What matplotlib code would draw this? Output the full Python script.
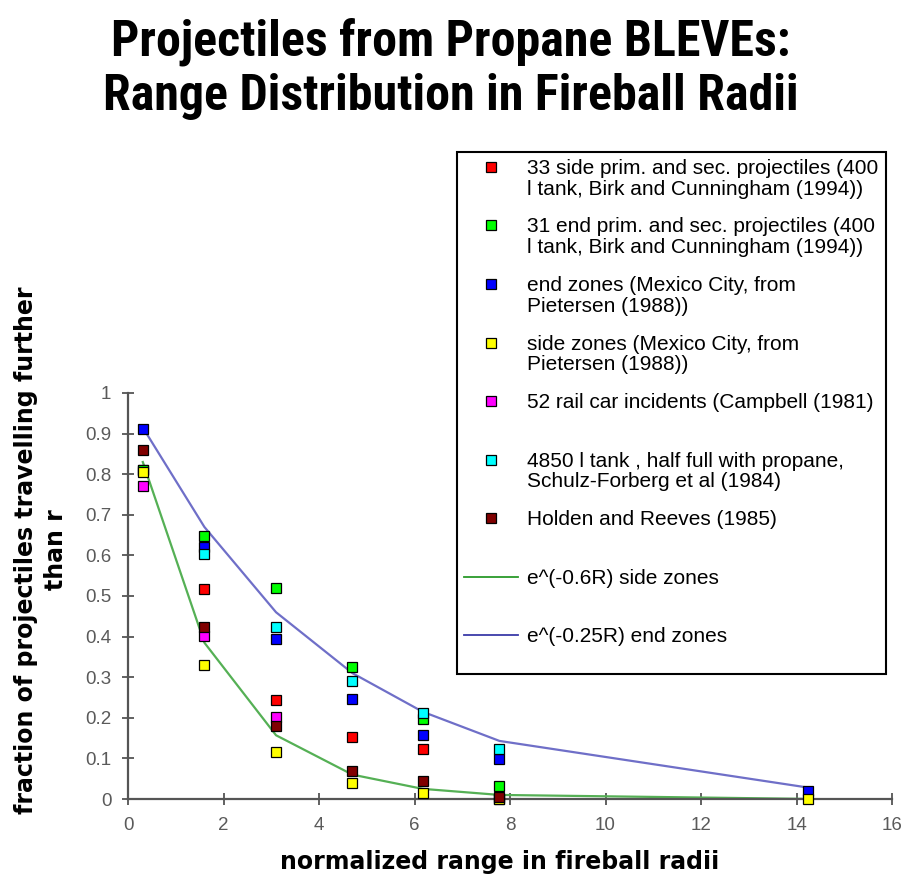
import matplotlib
matplotlib.use("Agg")
from matplotlib import pyplot as plt
from matplotlib.lines import Line2D
from matplotlib.legend_handler import HandlerLine2D
from matplotlib import font_manager

# distances (fireball radii) of the measured columns
r_cols = [0.31, 1.6, 3.1, 4.7, 6.17, 7.78, 14.25]

# fraction of projectiles travelling further than r, per data set
side_bc_x = [0.31, 1.6, 3.1, 4.7, 6.17, 7.78]
side_bc_y = [0.81, 0.517, 0.244, 0.153, 0.123, 0.0]
end_bc_x = [0.31, 1.6, 3.1, 4.7, 6.17, 7.78]
end_bc_y = [0.81, 0.648, 0.519, 0.326, 0.197, 0.033]
end_mx_x = [0.31, 1.6, 3.1, 4.7, 6.17, 7.78, 14.25]
end_mx_y = [0.911, 0.62, 0.394, 0.247, 0.157, 0.099, 0.019]
side_mx_x = [0.31, 1.6, 3.1, 4.7, 6.17, 7.78, 14.25]
side_mx_y = [0.805, 0.33, 0.116, 0.040, 0.016, 0.0, 0.0]
rail_x = [0.31, 1.6, 3.1]
rail_y = [0.77, 0.402, 0.202]
tank_x = [1.6, 3.1, 4.7, 6.17, 7.78]
tank_y = [0.603, 0.423, 0.291, 0.213, 0.123]
holden_x = [0.31, 1.6, 3.1, 4.7, 6.17, 7.78]
holden_y = [0.86, 0.423, 0.181, 0.07, 0.044, 0.005]

# fitted curves
side_fit = [0.83, 0.385, 0.157, 0.060, 0.025, 0.010, 0.0002]
end_fit = [0.915, 0.67, 0.46, 0.31, 0.215, 0.143, 0.028]

x_ticks = [0, 2, 4, 6, 8, 10, 12, 14, 16]
y_ticks = [0, 0.1, 0.2, 0.3, 0.4, 0.5, 0.6, 0.7, 0.8, 0.9, 1]
y_tick_labels = ["0", "0.1", "0.2", "0.3", "0.4", "0.5", "0.6", "0.7", "0.8", "0.9", "1"]

series = [
    (side_bc_x, side_bc_y, "#ff0000",
     "33 side prim. and sec. projectiles (400\nl tank, Birk and Cunningham (1994))"),
    (end_bc_x, end_bc_y, "#00ff00",
     "31 end prim. and sec. projectiles (400\nl tank, Birk and Cunningham (1994))"),
    (end_mx_x, end_mx_y, "#0000ff",
     "end zones (Mexico City, from\nPietersen (1988))"),
    (side_mx_x, side_mx_y, "#ffff00",
     "side zones (Mexico City, from\nPietersen (1988))"),
    (rail_x, rail_y, "#ff00ff",
     "52 rail car incidents (Campbell (1981)\n "),
    (tank_x, tank_y, "#00ffff",
     "4850 l tank , half full with propane,\nSchulz-Forberg et al (1984)"),
    (holden_x, holden_y, "#800000",
     "Holden and Reeves (1985)\n "),
]

# pick a narrow face for the title if one is around
names = {f.name for f in font_manager.fontManager.ttflist}
title_fam = "Liberation Sans"
for cand in ["Roboto Condensed", "Noto Sans Condensed", "Open Sans Condensed",
             "Liberation Sans Narrow", "DejaVu Sans Condensed"]:
    if cand in names:
        title_fam = cand
        break

W, H = 901, 883
fig = plt.figure(figsize=(W / 100, H / 100), dpi=100)
fig.patch.set_facecolor("white")

ax = fig.add_axes([128 / W, (H - 799) / H, (892 - 128) / W, (799 - 393) / H])
ax.set_facecolor("white")

axis_col = "#555555"
green_line, = ax.plot(r_cols, side_fit, color="#55b055", lw=1.6, zorder=2)
blue_line, = ax.plot(r_cols, end_fit, color="#6f6fc8", lw=1.6, zorder=2)

handles = []
labels = []
for xs, ys, col, lab in series:
    h, = ax.plot(xs, ys, "s", color=col, markersize=6.5, markeredgecolor="black",
                 markeredgewidth=0.9, clip_on=False, zorder=3)
    handles.append(h)
    labels.append(lab)

ax.set_xlim(0, 16)
ax.set_ylim(0, 1)
ax.set_xticks(x_ticks)
ax.set_yticks(y_ticks)
ax.set_yticklabels(y_tick_labels)
for s in ["top", "right"]:
    ax.spines[s].set_visible(False)
for s in ["left", "bottom"]:
    ax.spines[s].set_color(axis_col)
    ax.spines[s].set_linewidth(1.6)
ax.tick_params(direction="inout", length=8, width=1.3, color=axis_col,
               labelcolor="#5a5a5a", labelsize=13.5)
ax.tick_params(axis="x", pad=9)
ax.tick_params(axis="y", pad=8)
for t in ax.get_xticklabels() + ax.get_yticklabels():
    t.set_family(["Liberation Sans", "DejaVu Sans"])

# legend
leg_side = Line2D([], [], color="#2a9a2a", lw=1.3)
leg_end = Line2D([], [], color="#3a3aa8", lw=1.3)
handles += [leg_side, leg_end]
labels += ["e^(-0.6R) side zones\n ", "e^(-0.25R) end zones\n "]


class FirstLineHandler(HandlerLine2D):
    def create_artists(self, legend, orig_handle, xdescent, ydescent, width,
                       height, fontsize, trans):
        arts = super().create_artists(legend, orig_handle, xdescent, ydescent,
                                      width, height, fontsize, trans)
        for a in arts:
            a.set_ydata([y + 0.58 * fontsize for y in a.get_ydata()])
        return arts


leg = ax.legend(handles, labels, loc="upper left",
                bbox_to_anchor=(457 / W, 1 - 152 / H), bbox_transform=fig.transFigure,
                handler_map={h: FirstLineHandler() for h in handles},
                prop={"family": ["Liberation Sans", "DejaVu Sans"], "size": 15},
                frameon=True, fancybox=False, edgecolor="black", framealpha=1,
                borderpad=0.33, handlelength=2.6, handletextpad=0.45,
                labelspacing=0.9, borderaxespad=0, numpoints=1)
leg.get_frame().set_linewidth(1.5)
for t in leg.get_texts():
    t.set_linespacing(1.12)

# titles and axis labels
fig.text(0.5, 1 - 69 / H, "Projectiles from Propane BLEVEs:\nRange Distribution in Fireball Radii",
         ha="center", va="center", fontsize=36, fontweight="bold", linespacing=1.2,
         family=[title_fam, "DejaVu Sans"])
fig.text(500 / W, 1 - 862 / H, "normalized range in fireball radii",
         ha="center", va="center", fontsize=17, fontweight="bold")
fig.text(41 / W, 1 - 550 / H, "fraction of projectiles travelling further\nthan r",
         ha="center", va="center", rotation=90, fontsize=17, fontweight="bold",
         linespacing=1.35, multialignment="center")

fig.savefig("out.png", dpi=100)
